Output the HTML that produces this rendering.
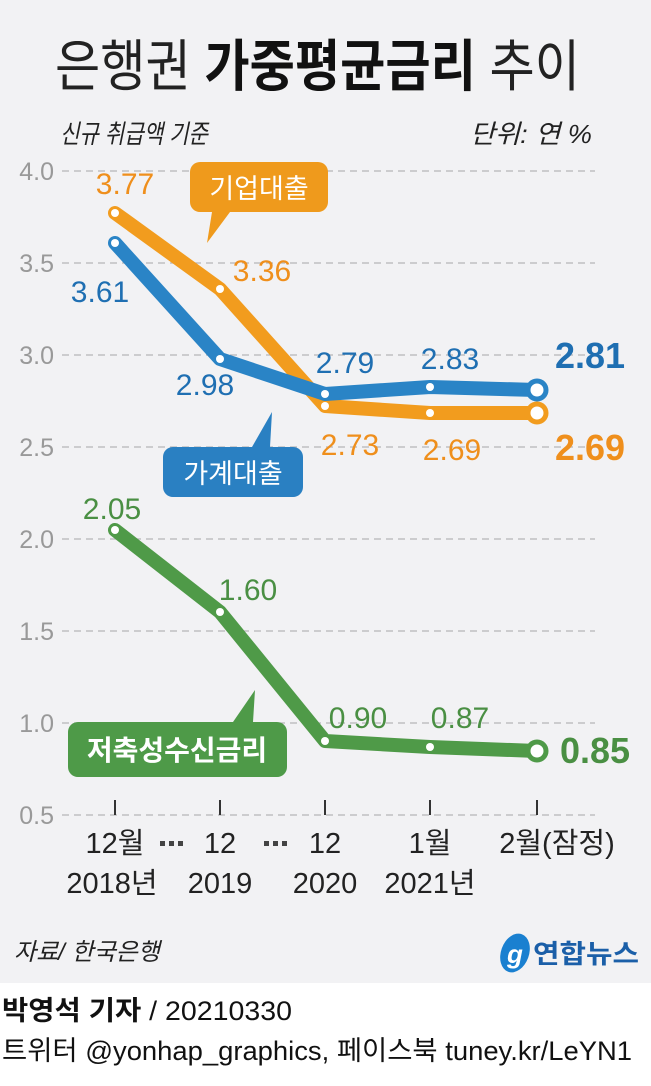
<!DOCTYPE html>
<html><head><meta charset="utf-8"><style>
html,body{margin:0;padding:0;background:#fff;}
svg{display:block;font-family:"Liberation Sans","Noto Sans CJK KR",sans-serif;}
</style></head><body>
<svg width="651" height="1086" viewBox="0 0 651 1086" xmlns="http://www.w3.org/2000/svg">
<rect x="0" y="0" width="651" height="983" fill="#f2f2f4"/>
<text x="55" y="86" font-size="56" fill="#222" textLength="525" lengthAdjust="spacingAndGlyphs">은행권 <tspan font-weight="bold" fill="#111">가중평균금리</tspan> 추이</text>
<text x="60" y="143" font-size="26" font-style="italic" fill="#222" textLength="148" lengthAdjust="spacingAndGlyphs">신규 취급액 기준</text>
<text x="470" y="143" font-size="26" font-style="italic" fill="#222" textLength="122" lengthAdjust="spacingAndGlyphs">단위: 연 %</text>
<g stroke="#b5b5b8" stroke-width="1.3" stroke-dasharray="7,5">
<line x1="62" y1="171" x2="595" y2="171"/><line x1="62" y1="263" x2="595" y2="263"/>
<line x1="62" y1="355" x2="595" y2="355"/><line x1="62" y1="447" x2="595" y2="447"/>
<line x1="62" y1="539" x2="595" y2="539"/><line x1="62" y1="631" x2="595" y2="631"/>
<line x1="62" y1="723" x2="595" y2="723"/><line x1="62" y1="815" x2="595" y2="815"/>
</g>
<g font-size="25" fill="#999" text-anchor="end">
<text x="54" y="180">4.0</text><text x="54" y="272">3.5</text><text x="54" y="364">3.0</text>
<text x="54" y="456">2.5</text><text x="54" y="548">2.0</text><text x="54" y="640">1.5</text>
<text x="54" y="732">1.0</text><text x="54" y="824">0.5</text>
</g>
<g stroke="#333" stroke-width="2">
<line x1="115" y1="800" x2="115" y2="815"/><line x1="220" y1="800" x2="220" y2="815"/>
<line x1="325" y1="800" x2="325" y2="815"/><line x1="430" y1="800" x2="430" y2="815"/>
<line x1="537" y1="800" x2="537" y2="815"/>
</g>
<!-- legend boxes -->
<path d="M200,162 h118 a10,10 0 0 1 10,10 v30 a10,10 0 0 1 -10,10 h-88 l-23,31 l5,-31 h-12 a10,10 0 0 1 -10,-10 v-30 a10,10 0 0 1 10,-10 z" fill="#ef9a1c"/>
<text x="259" y="198" font-size="27" fill="#fff" text-anchor="middle">기업대출</text>
<path d="M173,447 h79 l20,-35 l-2,35 h23 a10,10 0 0 1 10,10 v30 a10,10 0 0 1 -10,10 h-120 a10,10 0 0 1 -10,-10 v-30 a10,10 0 0 1 10,-10 z" fill="#2a80c2"/>
<text x="233" y="483" font-size="27" fill="#fff" text-anchor="middle">가계대출</text>
<path d="M78,722 h155 l22,-32 l-2,32 h24 a10,10 0 0 1 10,10 v35 a10,10 0 0 1 -10,10 h-199 a10,10 0 0 1 -10,-10 v-35 a10,10 0 0 1 10,-10 z" fill="#4e9a48"/>
<text x="177" y="760" font-size="28" fill="#fff" text-anchor="middle" font-weight="bold">저축성수신금리</text>
<!-- lines -->
<g fill="none" stroke-width="14" stroke-linejoin="round" stroke-linecap="round">
<polyline stroke="#f29c1e" points="115,213 220,289 325,406 430,413 537,413"/>
<polyline stroke="#2a84c6" points="115,243 220,359 325,394 430,387 537,390"/>
<polyline stroke="#4f9a48" points="115,530 220,612 325,741 430,747 537,751"/>
</g>
<g fill="#fff">
<circle cx="115" cy="213" r="4"/><circle cx="220" cy="289" r="4"/><circle cx="325" cy="406" r="4"/><circle cx="430" cy="413" r="4"/>
<circle cx="115" cy="243" r="4"/><circle cx="220" cy="359" r="4"/><circle cx="325" cy="394" r="4"/><circle cx="430" cy="387" r="4"/>
<circle cx="115" cy="530" r="4"/><circle cx="220" cy="612" r="4"/><circle cx="325" cy="741" r="4"/><circle cx="430" cy="747" r="4"/>
</g>
<circle cx="537" cy="413" r="9" fill="#fff" stroke="#f29c1e" stroke-width="5"/>
<circle cx="537" cy="390" r="9" fill="#fff" stroke="#2a84c6" stroke-width="5"/>
<circle cx="537" cy="751" r="9" fill="#fff" stroke="#4f9a48" stroke-width="5"/>
<!-- value labels -->
<g font-size="30" text-anchor="middle">
<text x="125" y="194" fill="#ef8f1c">3.77</text>
<text x="262" y="281" fill="#ef8f1c">3.36</text>
<text x="350" y="455" fill="#ef8f1c">2.73</text>
<text x="452" y="460" fill="#ef8f1c">2.69</text>
<text x="100" y="302" fill="#1f6fb2">3.61</text>
<text x="205" y="395" fill="#1f6fb2">2.98</text>
<text x="345" y="373" fill="#1f6fb2">2.79</text>
<text x="450" y="369" fill="#1f6fb2">2.83</text>
<text x="112" y="519" fill="#4a8f43">2.05</text>
<text x="248" y="600" fill="#4a8f43">1.60</text>
<text x="358" y="728" fill="#4a8f43">0.90</text>
<text x="460" y="728" fill="#4a8f43">0.87</text>
</g>
<g font-size="36" font-weight="bold" text-anchor="middle">
<text x="590" y="460" fill="#ef8f1c">2.69</text>
<text x="590" y="368" fill="#1f6fb2">2.81</text>
<text x="595" y="763" fill="#4a8f43">0.85</text>
</g>
<!-- x labels -->
<g font-size="29" fill="#222" text-anchor="middle">
<text x="115" y="853">12월</text><text x="220" y="853">12</text><text x="325" y="853">12</text>
<text x="430" y="853">1월</text><text x="557" y="853">2월(잠정)</text>
<text x="112" y="893">2018년</text><text x="220" y="893">2019</text><text x="325" y="893">2020</text><text x="430" y="893">2021년</text>
</g>
<g fill="#444"><rect x="160" y="841" width="5" height="5"/><rect x="169" y="841" width="5" height="5"/><rect x="178" y="841" width="5" height="5"/>
<rect x="264" y="841" width="5" height="5"/><rect x="273" y="841" width="5" height="5"/><rect x="282" y="841" width="5" height="5"/></g>
<text x="14" y="960" font-size="24" font-style="italic" fill="#222">자료/ 한국은행</text>
<ellipse cx="515" cy="953" rx="14" ry="20" fill="#1a80d0" transform="rotate(20 515 953)"/>
<text x="515" y="963" font-size="26" font-style="italic" fill="#fff" text-anchor="middle" font-weight="bold">g</text>
<text x="533" y="963" font-size="26" font-weight="bold" fill="#1b5fa8" textLength="106" lengthAdjust="spacingAndGlyphs">연합뉴스</text>
<text x="2" y="1020" font-size="27" fill="#111" textLength="290" lengthAdjust="spacingAndGlyphs"><tspan font-weight="bold">박영석 기자</tspan> /  20210330</text>
<text x="2" y="1060" font-size="27" fill="#111" textLength="630" lengthAdjust="spacingAndGlyphs">트위터 @yonhap_graphics, 페이스북 tuney.kr/LeYN1</text>
</svg>
</body></html>
